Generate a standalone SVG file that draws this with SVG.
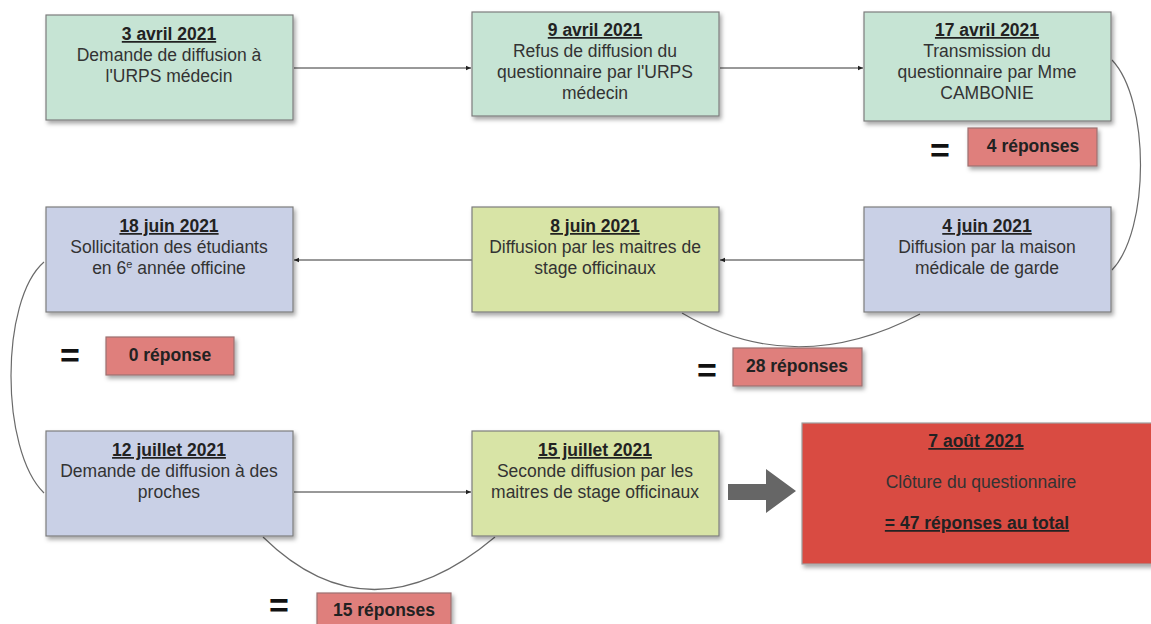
<svg xmlns="http://www.w3.org/2000/svg" width="1151" height="624" viewBox="0 0 1151 624">
<defs>
<filter id="sh" x="-10%" y="-10%" width="130%" height="140%">
<feDropShadow dx="2" dy="3" stdDeviation="2" flood-color="#000" flood-opacity="0.35"/>
</filter>
<marker id="ah" markerWidth="6" markerHeight="6" refX="5" refY="3" orient="auto" markerUnits="userSpaceOnUse">
<path d="M0,0.8 L5,3 L0,5.2 z" fill="#222"/>
</marker>
<style>
.box{stroke:#7d7d7d;stroke-width:1.2;filter:url(#sh)}
.mint{fill:#c6e4d4}
.lav{fill:#c9d0e6}
.yel{fill:#d8e4a6}
.pink{fill:#df7f7b;stroke:#9c7070;stroke-width:1.2;filter:url(#sh)}
.red{fill:#d94b43;stroke:#a0a0a0;stroke-width:1.2;filter:url(#sh)}
text{font-family:"Liberation Sans",Arial,sans-serif;font-size:17.5px;fill:#333;text-anchor:middle}
.d{font-weight:bold;fill:#222;text-decoration:underline}
.b{font-weight:bold;fill:#222}
.eq{font-weight:bold;font-size:34px;fill:#111}
.ln{fill:none;stroke:#333;stroke-width:1}
.cv{fill:none;stroke:#6a6a6a;stroke-width:1.2}
</style>
</defs>
<rect width="1151" height="624" fill="#fff"/>

<g id="connectors">
<line class="ln" x1="294" y1="68" x2="471" y2="68" marker-end="url(#ah)"/>
<line class="ln" x1="720" y1="68" x2="863" y2="68" marker-end="url(#ah)"/>
<path class="cv" d="M1112,60 C1150,100 1150,230 1112,270"/>
<line class="ln" x1="864" y1="260" x2="720" y2="260" marker-end="url(#ah)"/>
<path class="cv" d="M682,313 Q795,380 920,314"/>
<line class="ln" x1="472" y1="260" x2="294" y2="260" marker-end="url(#ah)"/>
<path class="cv" d="M44,262 C0,300 0,450 44,493"/>
<line class="ln" x1="294" y1="492" x2="471" y2="492" marker-end="url(#ah)"/>
<path class="cv" d="M263,537 Q370,642 495,537"/>
<polygon points="728,484 766,484 766,469 796,491 766,513 766,500 728,500" fill="#666"/>
</g>

<g id="n1"><rect class="box mint" x="46" y="15" width="247" height="105"/>
<text class="d" x="169" y="40">3 avril 2021</text>
<text x="169" y="61">Demande de diffusion à</text>
<text x="169" y="82">l'URPS médecin</text></g>

<g id="n2"><rect class="box mint" x="472" y="12" width="247" height="104"/>
<text class="d" x="595" y="36">9 avril 2021</text>
<text x="595" y="57">Refus de diffusion du</text>
<text x="595" y="78">questionnaire par l'URPS</text>
<text x="595" y="99">médecin</text></g>

<g id="n3"><rect class="box mint" x="864" y="12" width="247" height="109"/>
<text class="d" x="987" y="36">17 avril 2021</text>
<text x="987" y="57">Transmission du</text>
<text x="987" y="78">questionnaire par Mme</text>
<text x="987" y="99">CAMBONIE</text></g>

<g id="r4"><text class="eq" x="940" y="162">=</text>
<rect class="pink" x="968" y="128" width="129" height="38"/>
<text class="b" x="1033" y="152">4 réponses</text></g>

<g id="n5"><rect class="box lav" x="864" y="207" width="247" height="105"/>
<text class="d" x="987" y="232">4 juin 2021</text>
<text x="987" y="253">Diffusion par la maison</text>
<text x="987" y="274">médicale de garde</text></g>

<g id="n6"><rect class="box yel" x="472" y="207" width="247" height="105"/>
<text class="d" x="595" y="232">8 juin 2021</text>
<text x="595" y="253">Diffusion par les maitres de</text>
<text x="595" y="274">stage officinaux</text></g>

<g id="r28"><text class="eq" x="707" y="382">=</text>
<rect class="pink" x="733" y="348" width="129" height="38"/>
<text class="b" x="797" y="372">28 réponses</text></g>

<g id="n7"><rect class="box lav" x="46" y="207" width="247" height="105"/>
<text class="d" x="169" y="232">18 juin 2021</text>
<text x="169" y="253">Sollicitation des étudiants</text>
<text x="169" y="274">en 6<tspan font-size="11" dy="-6">e</tspan><tspan dy="6"> année officine</tspan></text></g>

<g id="r0"><text class="eq" x="70" y="367">=</text>
<rect class="pink" x="106" y="337" width="128" height="38"/>
<text class="b" x="170" y="361">0 réponse</text></g>

<g id="n8"><rect class="box lav" x="46" y="431" width="247" height="105"/>
<text class="d" x="169" y="456">12 juillet 2021</text>
<text x="169" y="477">Demande de diffusion à des</text>
<text x="169" y="498">proches</text></g>

<g id="n9"><rect class="box yel" x="472" y="431" width="247" height="105"/>
<text class="d" x="595" y="456">15 juillet 2021</text>
<text x="595" y="477">Seconde diffusion par les</text>
<text x="595" y="498">maitres de stage officinaux</text></g>

<g id="r15"><text class="eq" x="279" y="617">=</text>
<rect class="pink" x="317" y="593" width="134" height="38"/>
<text class="b" x="384" y="616">15 réponses</text></g>

<g id="n10"><rect class="red" x="802" y="423" width="360" height="141"/>
<text class="d" x="976" y="447">7 août 2021</text>
<text x="981" y="488">Clôture du questionnaire</text>
<text class="d" x="977" y="529">= 47 réponses au total</text></g>
</svg>
